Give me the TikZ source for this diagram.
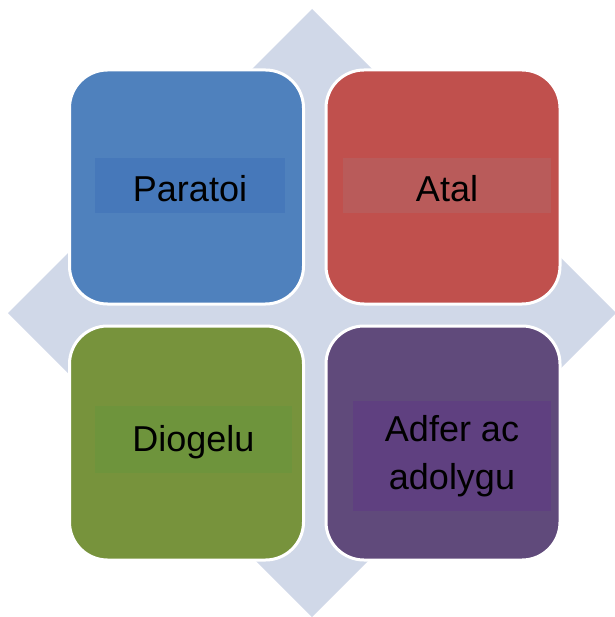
\documentclass[tikz,border=0pt]{standalone}
\usepackage{fontspec}
\setmainfont{Liberation Sans}
\definecolor{diam}{HTML}{D0D8E8}
\definecolor{qblue}{HTML}{4F81BD}
\definecolor{qred}{HTML}{C0504D}
\definecolor{qgreen}{HTML}{77933C}
\definecolor{qpurple}{HTML}{604A7B}
\definecolor{tblue}{HTML}{4678BA}
\definecolor{tred}{HTML}{B95B5A}
\definecolor{tgreen}{HTML}{6E943C}
\definecolor{tpurple}{HTML}{5F4080}
\tikzset{
  quad/.style={draw=white, line width=3pt, rounded corners=38pt, minimum width=234pt, minimum height=234pt, inner sep=0pt},
  label/.style={inner sep=0pt, font=\fontsize{36}{48}\selectfont, align=center, text=black}
}
\begin{document}
\begin{tikzpicture}[x=1pt,y=-1pt]
\useasboundingbox (0,0) rectangle (614,617);
\fill[diam] (312,9) -- (616,313) -- (312,617) -- (8,313) -- cycle;
\node[quad, fill=qblue] (q1) at (186.5,187) {};
\node[quad, fill=qred] (q2) at (443,187) {};
\node[quad, fill=qgreen] (q3) at (186.5,443) {};
\node[quad, fill=qpurple] (q4) at (443,443) {};
\node[label, fill=tblue, minimum width=190pt, text height=44pt, text depth=11pt] (t1) at (190,185.5) {Paratoi};
\node[label, fill=tred, minimum width=208pt, text height=44pt, text depth=11pt] (t2) at (447,185.5) {Atal};
\node[label, fill=tgreen, minimum width=197pt, text height=45pt, text depth=22pt] (t3) at (193.5,439.5) {Diogelu};
\node[label, fill=tpurple, minimum width=198pt, minimum height=110pt] (t4) at (452,456) {Adfer ac\\adolygu};
\end{tikzpicture}
\end{document}
